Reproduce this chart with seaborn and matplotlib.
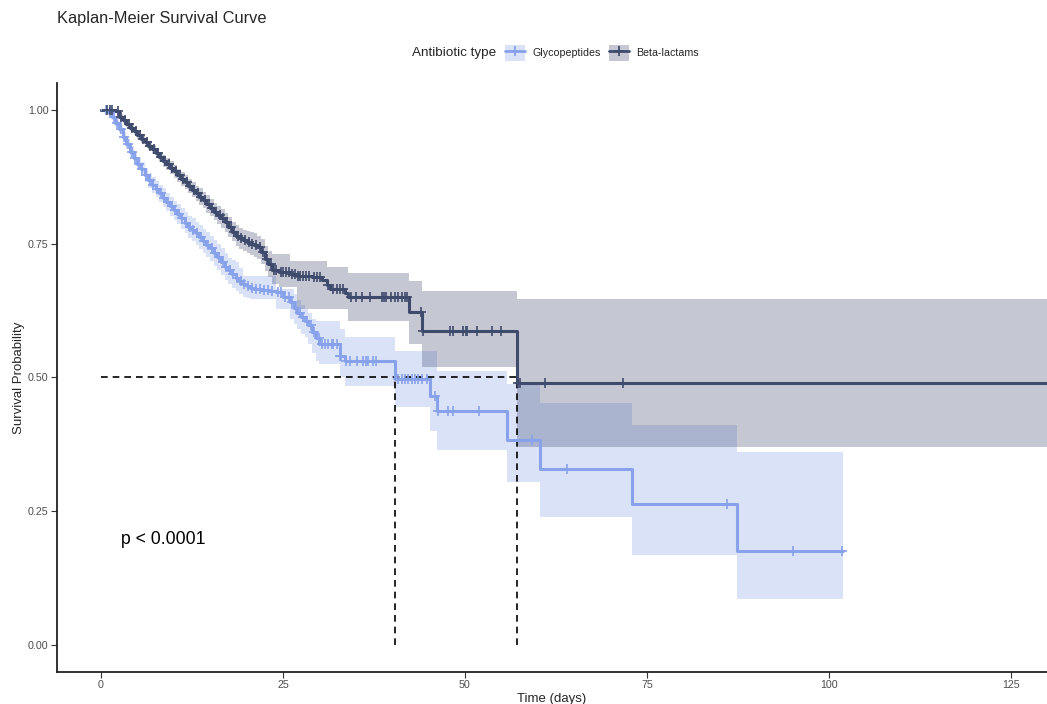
import numpy as np
import matplotlib
matplotlib.use("Agg")
import matplotlib.pyplot as plt
import seaborn as sns
from matplotlib.patches import Patch
from matplotlib.lines import Line2D

# ---- data ----
group_names = ["Glycopeptides", "Beta-lactams"]

glyco_time = [0, 1.0, 1.5, 2.0, 2.5, 3.0, 3.5, 4.0, 4.5, 5.0, 5.5, 6.0, 6.5, 7.0, 7.5, 8.0, 8.5,
              9.0, 9.5, 10.0, 10.5, 11.0, 11.5, 12.0, 12.5, 13.0, 13.5, 14.0, 14.5, 15.0, 15.5,
              16.0, 16.5, 17.0, 17.5, 18.0, 18.5, 19.0, 19.5, 20.0, 20.5, 21.0, 22.0, 23.0, 24.0,
              25.0, 26.0, 26.5, 27.0, 27.5, 28.0, 28.5, 29.0, 29.5, 30.0, 32.8, 33.5, 40.4, 45.2,
              46.2, 55.8, 60.3, 72.9, 87.4, 101.9]
glyco_surv = [1.0, .995, .986, .975, .964, .950, .936, .922, .910, .899, .889, .878, .868, .860, .852,
              .844, .836, .828, .820, .812, .805, .797, .789, .781, .776, .769, .762, .755, .748,
              .741, .733, .725, .716, .707, .700, .693, .686, .680, .675, .671, .668, .666, .664,
              .661, .659, .650, .641, .630, .621, .613, .606, .598, .585, .574, .562, .540, .531,
              .497, .466, .437, .384, .330, .264, .175, .175]
glyco_lower = [1.0, .991, .981, .969, .957, .942, .927, .912, .899, .887, .876, .865, .854, .845, .837,
               .828, .819, .811, .802, .794, .786, .778, .769, .761, .755, .748, .740, .733, .725,
               .718, .709, .701, .691, .682, .675, .668, .661, .655, .650, .648, .646, .646, .646,
               .646, .628, .628, .610, .600, .590, .582, .575, .562, .545, .530, .525, .500, .484,
               .445, .400, .365, .305, .240, .169, .086, .086]
glyco_upper = [1.0, .999, .991, .981, .971, .958, .945, .932, .921, .911, .902, .891, .882, .875, .867,
               .860, .853, .845, .838, .830, .824, .816, .809, .801, .797, .790, .784, .777, .771,
               .764, .757, .749, .741, .732, .724, .720, .715, .705, .689, .689, .689, .689, .689,
               .689, .665, .665, .665, .655, .645, .636, .628, .620, .610, .605, .605, .590, .575,
               .549, .549, .512, .488, .452, .411, .361, .361]
glyco_censor = [0.7, 1.3, 1.8, 2.2, 2.7, 3.2, 3.7, 4.2, 4.7, 5.2, 5.7, 6.2, 6.7, 7.2, 7.7, 8.2, 8.7,
                9.2, 9.7, 10.2, 10.7, 11.2, 11.7, 12.2, 12.7, 13.2, 13.7, 14.2, 14.7, 15.2, 15.7,
                16.2, 16.7, 17.2, 17.7, 18.2, 18.7, 19.2, 19.7, 20.2, 20.7, 21.3, 21.8, 22.4, 22.9,
                23.5, 24.3, 24.8, 25.3, 25.8, 26.3, 26.8, 27.3, 27.8, 28.3, 28.8, 29.3, 29.9, 30.4,
                30.8, 31.2, 31.7, 31.9, 32.4, 32.8, 33.0, 33.7, 34.2, 35.2, 36.0, 36.4, 36.7, 37.4,
                37.8, 40.8, 41.3, 41.8, 42.2, 42.7, 43.1, 43.5, 44.1, 44.8, 45.9, 46.3, 47.7, 48.4,
                51.9, 59.2, 64.0, 86.0, 95.1, 101.8]

beta_time = [0, 2.0, 2.5, 3.0, 3.5, 4.0, 4.5, 5.0, 5.5, 6.0, 6.5, 7.0, 7.5, 8.0, 8.5, 9.0, 9.5,
             10.0, 10.5, 11.0, 11.5, 12.0, 12.5, 13.0, 13.5, 14.0, 14.5, 15.0, 15.5, 16.0, 16.5,
             17.0, 17.5, 18.0, 18.5, 19.0, 19.5, 20.0, 20.5, 21.0, 21.5, 22.0, 22.5, 23.0, 23.5,
             24.5, 26.0, 27.0, 29.0, 30.4, 31.0, 31.5, 33.5, 34.0, 42.3, 44.1, 57.1, 130.0]
beta_surv = [1.0, .997, .987, .980, .973, .966, .960, .953, .946, .939, .933, .926, .919, .912, .905,
             .898, .892, .885, .878, .871, .865, .858, .851, .844, .838, .831, .824, .817, .810,
             .803, .797, .790, .781, .772, .765, .760, .756, .753, .750, .747, .743, .735, .722,
             .712, .700, .697, .693, .690, .688, .682, .672, .665, .657, .650, .622, .587, .490, .490]
beta_lower = [1.0, .994, .982, .975, .967, .960, .953, .946, .938, .931, .924, .917, .909, .902, .894,
              .887, .880, .873, .866, .858, .852, .845, .837, .830, .823, .816, .808, .801, .794,
              .786, .780, .772, .763, .754, .746, .740, .736, .732, .729, .725, .721, .712, .698,
              .688, .675, .669, .669, .628, .628, .628, .628, .628, .628, .605, .562, .520, .371, .371]
beta_upper = [1.0, 1.0, .992, .985, .979, .972, .967, .960, .954, .947, .942, .935, .929, .922, .916,
              .909, .904, .897, .890, .884, .878, .871, .865, .858, .853, .846, .840, .833, .826,
              .820, .814, .808, .799, .791, .784, .779, .776, .774, .771, .769, .765, .758, .746,
              .736, .730, .730, .717, .717, .717, .717, .706, .706, .706, .696, .680, .661, .646, .646]
beta_censor = [0.8, 1.2, 1.5, 2.3, 2.8, 3.3, 3.8, 4.3, 4.8, 5.3, 5.8, 6.3, 6.8, 7.3, 7.8, 8.3, 8.8,
               9.3, 9.8, 10.3, 10.8, 11.3, 11.8, 12.3, 12.8, 13.3, 13.8, 14.3, 14.8, 15.3, 15.8,
               16.3, 16.8, 17.3, 17.8, 18.3, 18.8, 19.3, 19.8, 20.3, 20.8, 21.3, 21.8, 22.3, 22.8,
               23.3, 23.8, 24.1, 24.7, 25.0, 25.4, 25.8, 26.3, 26.6, 27.1, 27.4, 27.8, 28.2, 28.6,
               29.3, 29.7, 30.1, 31.2, 31.9, 32.4, 32.8, 33.2, 34.4, 35.1, 35.8, 36.9, 38.6, 38.9,
               39.2, 39.9, 40.4, 40.8, 41.3, 41.8, 42.0, 44.0, 44.3, 48.0, 48.3, 49.8, 50.1, 50.3,
               51.6, 53.7, 54.9, 57.3, 57.6, 61.0, 71.7]

medians = [40.4, 57.1]
p_text = "p < 0.0001"

colors = ["#87a2ea", "#3f4b6d"]

# ---- style ----
sns.set_theme(style="white")
plt.rcParams["font.family"] = ["Liberation Sans", "DejaVu Sans"]

fig = plt.figure(figsize=(10.47, 7.04), dpi=100)
ax = fig.add_axes([0.0544, 0.0455, 0.9456, 0.8366])

groups = [
    (glyco_time, glyco_surv, glyco_lower, glyco_upper, glyco_censor),
    (beta_time, beta_surv, beta_lower, beta_upper, beta_censor),
]

# confidence bands
for (t, s, lo, hi, c), col in zip(groups, colors):
    ax.fill_between(t, lo, hi, step="post", color=col, alpha=0.3, linewidth=0, zorder=1)

# median lines
ax.plot([0, max(medians)], [0.5, 0.5], color="black", ls=(0, (4, 3)), lw=1.2, zorder=2)
for m in medians:
    ax.plot([m, m], [0, 0.5], color="black", ls=(0, (4, 3)), lw=1.2, zorder=2)

# survival curves + censor marks
for (t, s, lo, hi, c), col in zip(groups, colors):
    sns.lineplot(x=t, y=s, ax=ax, color=col, lw=2.2, drawstyle="steps-post",
                 estimator=None, sort=False, legend=False, zorder=3)
    t_arr = np.asarray(t)
    s_arr = np.asarray(s)
    idx = np.searchsorted(t_arr, c, side="right") - 1
    ax.plot(c, s_arr[idx], ls="none", marker="+", markersize=6.5, mew=1.2, color=col, zorder=4)

ax.text(2.7, 0.197, p_text, fontsize=12.7, ha="left", va="center", color="black")

ax.set_xlim(-6.04, 129.95)
ax.set_ylim(-0.05, 1.05)
ax.set_xticks([0, 25, 50, 75, 100, 125])
ax.set_yticks([0, 0.25, 0.5, 0.75, 1.0])
ax.set_yticklabels(["0.00", "0.25", "0.50", "0.75", "1.00"])
ax.tick_params(axis="both", direction="out", length=4, width=0.8, color="#333333",
               labelsize=7.7, labelcolor="#4d4d4d", pad=2, left=True, bottom=True)
ax.set_xlabel("Time (days)", fontsize=9.5, labelpad=2)
ax.set_ylabel("Survival Probability", fontsize=9.5, labelpad=2)
for side in ["top", "right"]:
    ax.spines[side].set_visible(False)
for side in ["left", "bottom"]:
    ax.spines[side].set_color("#222222")
    ax.spines[side].set_linewidth(1.3)

fig.text(57 / 1047, 1 - 18 / 704, "Kaplan-Meier Survival Curve", fontsize=11.8,
         ha="left", va="center")

# legend
handles = []
for col in colors:
    handles.append((Patch(facecolor=col, alpha=0.3, edgecolor="none"),
                    Line2D([], [], color=col, lw=2.0, marker="+", markersize=7, mew=1.3)))
fig.text(412 / 1047, 1 - 53 / 704, "Antibiotic type", fontsize=9.7, ha="left", va="center")
fig.legend(handles, group_names, loc="center left", bbox_to_anchor=(505 / 1047, 1 - 53 / 704),
           ncol=2, frameon=False, fontsize=7.7, handlelength=1.9, handleheight=2.0,
           handletextpad=0.7, columnspacing=0.7, borderpad=0, borderaxespad=0)

fig.savefig("out.png", dpi=100)
